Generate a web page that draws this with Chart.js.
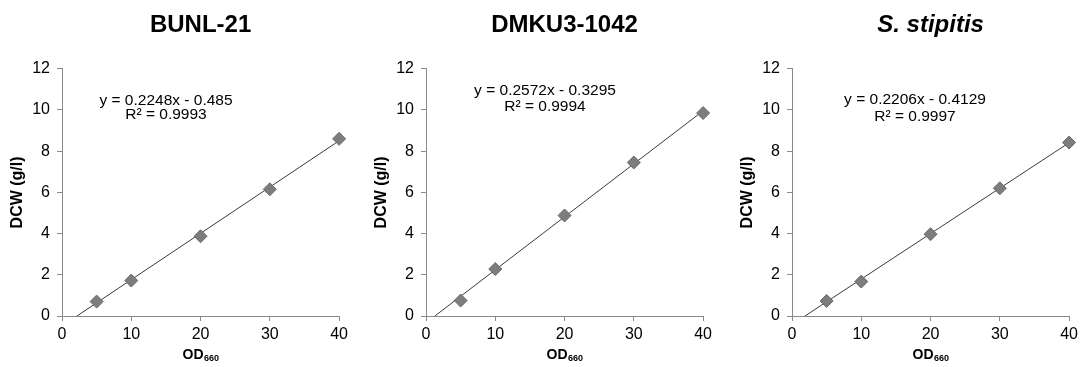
<!DOCTYPE html>
<html>
<head>
<meta charset="utf-8">
<script src="https://cdn.jsdelivr.net/npm/chart.js@4/dist/chart.umd.min.js"></script>
<style>
  body { margin: 0; background: #fff; width: 1081px; height: 367px; position: relative; overflow: hidden; }
  .panel { position: absolute; top: 0; width: 352px; height: 367px; }
</style>
</head>
<body>
<div class="panel" style="left:0px"><canvas id="c1" width="352" height="367"></canvas></div>
<div class="panel" style="left:364px"><canvas id="c2" width="352" height="367"></canvas></div>
<div class="panel" style="left:730px"><canvas id="c3" width="352" height="367"></canvas></div>
<script>
// valores
const odValues = [5, 10, 20, 30, 40];
const bunl21 = [0.7, 1.72, 3.87, 6.15, 8.6];
const dmku = [0.75, 2.28, 4.88, 7.45, 9.85];
const stipitis = [0.73, 1.67, 3.97, 6.2, 8.42];

const titles = ["BUNL-21", "DMKU3-1042", "S. stipitis"];
const slopes = [0.2248, 0.2572, 0.2206];
const intercepts = [-0.485, -0.3295, -0.4129];
const rSquared = ["0.9993", "0.9994", "0.9997"];

const yTicks = [0, 2, 4, 6, 8, 10, 12];
const xTicks = [0, 10, 20, 30, 40];

const FONT = "'Liberation Sans', Arial, sans-serif";
const axisGray = "#8a8a8a";

// posicao do texto da equacao (relativa a area do grafico)
const eqPos = [
  { dx: 104, y1: 101, y2: 115 },
  { dx: 119, y1: 91, y2: 107 },
  { dx: 123, y1: 100, y2: 117 },
];

const fmt = (v) => (v < 0 ? " - " + Math.abs(v) : " + " + v);

const extras = {
  id: "extras",
  afterDraw(chart, args, opts) {
    const ctx = chart.ctx;
    const a = chart.chartArea;
    ctx.save();
    ctx.fillStyle = "#000";
    ctx.textAlign = "center";
    ctx.textBaseline = "middle";
    // equacao e R²
    ctx.font = "15.5px " + FONT;
    const p = eqPos[opts.idx];
    ctx.fillText("y = " + slopes[opts.idx] + "x" + fmt(intercepts[opts.idx]), a.left + p.dx, p.y1);
    ctx.fillText("R² = " + rSquared[opts.idx], a.left + p.dx, p.y2);
    // titulo do eixo x com subscrito
    ctx.font = "bold 14px " + FONT;
    const w1 = ctx.measureText("OD").width;
    ctx.font = "bold 9px " + FONT;
    const w2 = ctx.measureText("660").width;
    const cx = (a.left + a.right) / 2;
    const x0 = cx - (w1 + w2) / 2;
    ctx.textAlign = "left";
    ctx.font = "bold 14px " + FONT;
    ctx.fillText("OD", x0, 355);
    ctx.font = "bold 9px " + FONT;
    ctx.fillText("660", x0 + w1 + 0.5, 359);
    ctx.restore();
  },
};

function makeChart(id, idx, values) {
  const m = slopes[idx];
  const b = intercepts[idx];
  const xMax = odValues[odValues.length - 1];
  const trend = [
    { x: -b / m, y: 0 },
    { x: xMax, y: m * xMax + b },
  ];
  return new Chart(document.getElementById(id), {
    type: "scatter",
    data: {
      datasets: [
        {
          label: "trend",
          type: "line",
          data: trend,
          borderColor: "#3a3a3a",
          borderWidth: 1,
          pointRadius: 0,
          fill: false,
          clip: false,
          order: 2,
        },
        {
          label: titles[idx],
          data: odValues.map((x, i) => ({ x: x, y: values[i] })),
          pointStyle: "rectRot",
          pointRadius: 6.5,
          backgroundColor: "#7d7d7d",
          borderColor: "#6a6a6a",
          borderWidth: 1,
          clip: false,
          order: 1,
        },
      ],
    },
    options: {
      responsive: false,
      animation: false,
      layout: { padding: { left: 0, right: 11, top: 0, bottom: 0 } },
      plugins: {
        legend: { display: false },
        tooltip: { enabled: false },
        title: {
          display: true,
          text: titles[idx],
          fullSize: false,
          color: "#000",
          font: { family: FONT, size: 24, weight: "bold", style: idx === 2 ? "italic" : "normal" },
          padding: { top: 11, bottom: 29 },
        },
        extras: { idx: idx },
      },
      scales: {
        x: {
          type: "linear",
          min: 0,
          max: 40,
          afterBuildTicks: (s) => { s.ticks = xTicks.map((v) => ({ value: v })); },
          ticks: { color: "#000", font: { family: FONT, size: 16 }, padding: 4 },
          grid: { drawOnChartArea: false, drawTicks: true, tickLength: 5, color: axisGray },
          border: { color: axisGray, width: 1 },
          afterFit: (s) => { s.height = 51; },
        },
        y: {
          min: 0,
          max: 12,
          afterBuildTicks: (s) => { s.ticks = yTicks.map((v) => ({ value: v })); },
          ticks: { color: "#000", font: { family: FONT, size: 16 }, padding: 7 },
          grid: { drawOnChartArea: false, drawTicks: true, tickLength: 5, color: axisGray },
          border: { color: axisGray, width: 1 },
          title: {
            display: true,
            text: "DCW (g/l)",
            color: "#000",
            font: { family: FONT, size: 16, weight: "bold" },
            padding: { top: 8, bottom: 0 },
          },
          afterFit: (s) => { s.width = 62; },
        },
      },
    },
    plugins: [extras],
  });
}

makeChart("c1", 0, bunl21);
makeChart("c2", 1, dmku);
makeChart("c3", 2, stipitis);
</script>
</body>
</html>
